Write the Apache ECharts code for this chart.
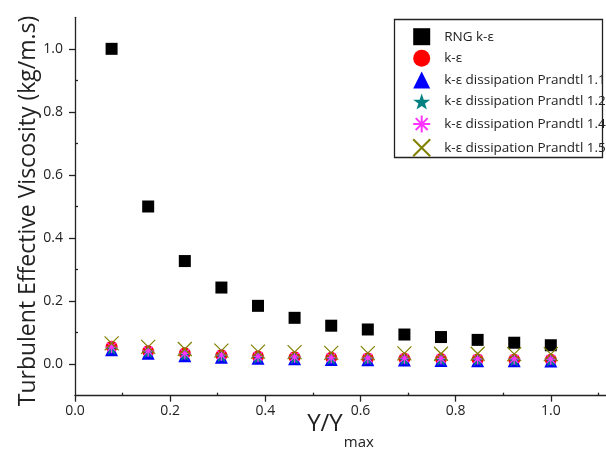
<!DOCTYPE html>
<html>
<head>
<meta charset="utf-8">
<script src="https://cdn.jsdelivr.net/npm/echarts@6/dist/echarts.min.js"></script>
<style>html,body{margin:0;padding:0;background:#fff}#c{width:606px;height:464px}</style>
</head>
<body>
<div id="c"></div>
<script>
// ---- data ----
const xValues = [0.0769, 0.1538, 0.2308, 0.3077, 0.3846, 0.4615, 0.5385, 0.6154, 0.6923, 0.7692, 0.8462, 0.9231, 1.0];
const rngKe   = [1.0, 0.5, 0.327, 0.243, 0.185, 0.147, 0.122, 0.110, 0.094, 0.086, 0.077, 0.068, 0.060];
const ke      = [0.055, 0.041, 0.035, 0.028, 0.024, 0.022, 0.020, 0.018, 0.017, 0.016, 0.015, 0.014, 0.014];
const pr11    = [0.046, 0.035, 0.027, 0.022, 0.019, 0.017, 0.015, 0.014, 0.013, 0.012, 0.011, 0.011, 0.010];
const pr12    = [0.050, 0.039, 0.031, 0.026, 0.022, 0.020, 0.018, 0.017, 0.016, 0.015, 0.014, 0.013, 0.013];
const pr14    = [0.054, 0.042, 0.034, 0.029, 0.025, 0.023, 0.021, 0.020, 0.019, 0.018, 0.017, 0.017, 0.016];
const pr15    = [0.066, 0.055, 0.048, 0.043, 0.040, 0.038, 0.036, 0.035, 0.034, 0.033, 0.033, 0.032, 0.032];
const seriesNames = ['RNG k-ε', 'k-ε', 'k-ε dissipation Prandtl 1.1', 'k-ε dissipation Prandtl 1.2', 'k-ε dissipation Prandtl 1.4', 'k-ε dissipation Prandtl 1.5'];
const xTicks = [0, 0.2, 0.4, 0.6, 0.8, 1.0];
const xMinorTicks = [0.1, 0.3, 0.5, 0.7, 0.9, 1.1];
const yTicks = [0, 0.2, 0.4, 0.6, 0.8, 1.0];
const yMinorTicks = [0.1, 0.3, 0.5, 0.7, 0.9];

const pair = arr => xValues.map((x, i) => [x, arr[i]]);
const FONT = '"Open Sans", "DejaVu Sans", sans-serif';
const STAR = 'path://M50,0 L61.8,35.1 L98.1,35.1 L68.8,56.7 L79.4,91 L50,70.5 L20.6,91 L31.2,56.7 L1.9,35.1 L38.2,35.1 Z';
const CROSS = 'path://M0,0 L10,10 M10,0 L0,10';
const ASTER = 'path://M5,0 L5,10 M0,5 L10,5 M1.5,1.5 L8.5,8.5 M8.5,1.5 L1.5,8.5';

const axisLineStyle = {color: '#222', width: 1.3};
const chart = echarts.init(document.getElementById('c'), null, {renderer: 'canvas'});
const fmt = v => v.toFixed(1);

chart.setOption({
  animation: false,
  backgroundColor: '#fff',
  grid: {left: 75, top: 17.3, right: 0, bottom: 68.3, containLabel: false},
  xAxis: [{
    type: 'value', min: 0, max: 1.116,
    axisLine: {show: true, onZero: false, lineStyle: axisLineStyle},
    axisTick: {show: true, length: 6, customValues: xTicks, lineStyle: axisLineStyle},
    axisLabel: {customValues: xTicks, formatter: fmt, margin: 8, fontSize: 14, color: '#222', fontFamily: FONT},
    splitLine: {show: false},
    name: '{a|Y/Y}{b|max}', nameLocation: 'middle', nameGap: 16, nameMoveOverlap: false,
    nameTextStyle: {
      rich: {
        a: {fontSize: 24, lineHeight: 28, verticalAlign: 'top', fontFamily: FONT, color: '#222'},
        b: {fontSize: 15, lineHeight: 18, padding: [24, 0, 0, 1], verticalAlign: 'top', fontFamily: FONT, color: '#222'}
      }
    }
  }, {
    type: 'value', min: 0, max: 1.116, position: 'bottom',
    axisLine: {show: false, onZero: false},
    axisTick: {show: true, inside: true, length: 3, customValues: xMinorTicks, lineStyle: axisLineStyle},
    axisLabel: {show: false}, splitLine: {show: false}
  }],
  yAxis: [{
    type: 'value', min: -0.1, max: 1.1,
    axisLine: {show: true, lineStyle: axisLineStyle},
    axisTick: {show: true, length: 6, customValues: yTicks, lineStyle: axisLineStyle},
    axisLabel: {customValues: yTicks, formatter: fmt, margin: 12, fontSize: 14, color: '#222', fontFamily: FONT},
    splitLine: {show: false},
    name: 'Turbulent Effective Viscosity (kg/m.s)', nameLocation: 'middle', nameGap: 35, nameMoveOverlap: false,
    nameTextStyle: {fontSize: 23, fontFamily: FONT, color: '#222', padding: [0, 9, 0, 0]}
  }, {
    type: 'value', min: -0.1, max: 1.1, position: 'left', offset: 0,
    axisLine: {show: false},
    axisTick: {show: true, inside: true, length: 3, customValues: yMinorTicks, lineStyle: axisLineStyle},
    axisLabel: {show: false}, splitLine: {show: false}
  }],
  legend: {
    orient: 'vertical', left: 412.2, top: 28.2, padding: 0,
    itemWidth: 17, itemHeight: 17, itemGap: 4.6,
    textStyle: {fontSize: 13.5, fontFamily: FONT, color: '#222', lineHeight: 17, padding: [0, 0, 0, 9]},
    data: seriesNames
  },
  graphic: [{
    type: 'rect', shape: {x: 394.5, y: 19.5, width: 208, height: 138},
    style: {fill: 'none', stroke: '#222', lineWidth: 1.3}, z: 0, silent: true
  }],
  series: [
    {name: seriesNames[0], type: 'scatter', data: pair(rngKe), symbol: 'rect', symbolSize: 12, itemStyle: {color: '#000', opacity: 1}},
    {name: seriesNames[1], type: 'scatter', data: pair(ke), symbol: 'circle', symbolSize: 12, itemStyle: {color: '#ff0000', opacity: 1}},
    {name: seriesNames[2], type: 'scatter', data: pair(pr11), symbol: 'triangle', symbolSize: 13, itemStyle: {color: '#0000ff', opacity: 1}},
    {name: seriesNames[3], type: 'scatter', data: pair(pr12), symbol: STAR, symbolSize: 13, itemStyle: {color: '#008080', opacity: 1}},
    {name: seriesNames[4], type: 'scatter', data: pair(pr14), symbol: ASTER, symbolSize: 12, itemStyle: {color: 'rgba(0,0,0,0)', borderColor: '#ff33ff', borderWidth: 1.2, opacity: 1}},
    {name: seriesNames[5], type: 'scatter', data: pair(pr15), symbol: CROSS, symbolSize: 14, itemStyle: {color: 'rgba(0,0,0,0)', borderColor: '#808000', borderWidth: 1.2, opacity: 1}}
  ]
});
</script>
</body>
</html>
